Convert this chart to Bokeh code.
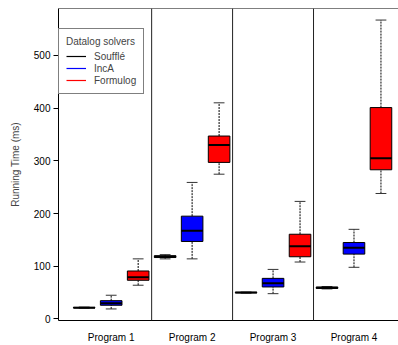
from bokeh.plotting import figure
from bokeh.models import (Range1d, FixedTicker, Span, Legend, LegendItem, ColumnDataSource)
from bokeh.embed import file_html
from bokeh.resources import INLINE

programs = ["Program 1", "Program 2", "Program 3", "Program 4"]
solvers = ["Soufflé", "IncA", "Formulog"]
colors = ["black", "blue", "red"]

# (lower whisker, q1, median, q3, upper whisker) for each program
souffle_stats = [(20.5, 21.0, 21.5, 22.0, 22.5),
                 (114.0, 116.5, 118.0, 120.0, 122.0),
                 (49.0, 49.5, 50.0, 50.5, 51.0),
                 (57.0, 58.0, 59.0, 60.5, 61.5)]
inca_stats = [(19.0, 26.0, 30.0, 34.7, 45.0),
              (114.0, 147.0, 167.5, 195.0, 259.0),
              (48.0, 60.7, 67.7, 77.0, 94.0),
              (98.0, 123.0, 135.0, 145.0, 170.0)]
formulog_stats = [(64.0, 73.4, 79.0, 91.0, 114.0),
                  (274.6, 297.0, 330.0, 347.0, 410.0),
                  (108.0, 118.0, 138.0, 160.7, 223.0),
                  (238.0, 283.0, 305.0, 401.0, 567.0)]
y_ticks = [0, 100, 200, 300, 400, 500]

all_stats = [souffle_stats, inca_stats, formulog_stats]

FONT = "Liberation Sans"

lo_all = min(s[0] for st in all_stats for s in st)
hi_all = max(s[4] for st in all_stats for s in st)
pad = 0.04 * (hi_all - lo_all)
y0, y1 = lo_all - pad, hi_all + pad

p = figure(frame_width=340, frame_height=312, output_backend="svg", toolbar_location=None,
           x_range=Range1d(0.047, 12.65), y_range=Range1d(y0, y1),
           min_border_left=58, min_border_right=0, min_border_top=8, min_border_bottom=25)
p.outline_line_color = None
p.xgrid.visible = False
p.ygrid.visible = False
p.background_fill_color = "white"
p.border_fill_color = "white"

nsol = len(solvers)
legend_renderers = []
for j, (name, col, stats) in enumerate(zip(solvers, colors, all_stats)):
    xs = [nsol * i + j + 1 for i in range(len(programs))]
    lo = [s[0] for s in stats]
    q1 = [s[1] for s in stats]
    med = [s[2] for s in stats]
    q3 = [s[3] for s in stats]
    hi = [s[4] for s in stats]
    src = ColumnDataSource(dict(x=xs, lo=lo, q1=q1, med=med, q3=q3, hi=hi,
                                xl=[x - 0.4 for x in xs], xr=[x + 0.4 for x in xs],
                                sl=[x - 0.2 for x in xs], sr=[x + 0.2 for x in xs]))
    # whiskers
    p.segment(x0="x", y0="q3", x1="x", y1="hi", source=src, line_color="black",
              line_width=1, line_dash="2 1")
    p.segment(x0="x", y0="lo", x1="x", y1="q1", source=src, line_color="black",
              line_width=1, line_dash="2 1")
    # staples
    p.segment(x0="sl", y0="hi", x1="sr", y1="hi", source=src, line_color="#333333", line_width=1)
    p.segment(x0="sl", y0="lo", x1="sr", y1="lo", source=src, line_color="#333333", line_width=1)
    # boxes
    p.quad(left="xl", right="xr", bottom="q1", top="q3", source=src,
           fill_color=col, line_color="black", line_width=1)
    # medians
    p.segment(x0="xl", y0="med", x1="xr", y1="med", source=src, line_color="black", line_width=2)
    # legend proxy (not drawn: NaN coordinates)
    r = p.line(x=[float("nan")], y=[float("nan")], line_color=col, line_width=1.2)
    legend_renderers.append((name, r))

# group separators
for k in range(1, len(programs)):
    p.add_layout(Span(location=nsol * k + 0.5, dimension="height", line_color="#222222", line_width=1))
# top border
p.add_layout(Span(location=y1, dimension="width", line_color="black", line_width=1))

# axes
p.yaxis.ticker = FixedTicker(ticks=y_ticks)
p.yaxis.axis_label = "Running Time (ms)"
p.yaxis.axis_label_text_font = FONT
p.yaxis.axis_label_text_font_size = "10px"
p.yaxis.axis_label_text_font_style = "normal"
p.yaxis.axis_label_standoff = 10
p.yaxis.major_label_text_font = FONT
p.yaxis.major_label_text_font_size = "10px"
p.yaxis.major_tick_out = 5
p.yaxis.major_tick_in = 0
p.yaxis.minor_tick_line_color = None
p.yaxis.major_label_standoff = 3
p.yaxis.axis_line_color = "black"
p.yaxis.major_label_text_color = "black"

centers = [nsol * i + (nsol + 1) / 2 for i in range(len(programs))]
p.xaxis.ticker = FixedTicker(ticks=centers)
p.xaxis.major_label_overrides = {c: lab for c, lab in zip(centers, programs)}
p.xaxis.major_tick_line_color = None
p.xaxis.minor_tick_line_color = None
p.xaxis.major_tick_out = 0
p.xaxis.major_tick_in = 0
p.xaxis.major_label_standoff = 11
p.xaxis.major_label_text_font = FONT
p.xaxis.major_label_text_font_size = "10px"
p.xaxis.major_label_text_color = "black"
p.xaxis.axis_line_color = "black"

legend = Legend(items=[LegendItem(label=n, renderers=[r]) for n, r in legend_renderers],
                location=(0, 226), title="Datalog solvers",
                title_text_font=FONT, title_text_font_size="10px", title_text_font_style="normal",
                title_standoff=3,
                label_text_font=FONT, label_text_font_size="10px",
                glyph_width=20, glyph_height=12, label_height=12, spacing=0,
                label_standoff=8, padding=7, margin=0,
                border_line_color="black", border_line_width=1,
                background_fill_color="white", background_fill_alpha=1.0)
p.add_layout(legend, "center")

open("out.html", "w").write(file_html(p, INLINE))
